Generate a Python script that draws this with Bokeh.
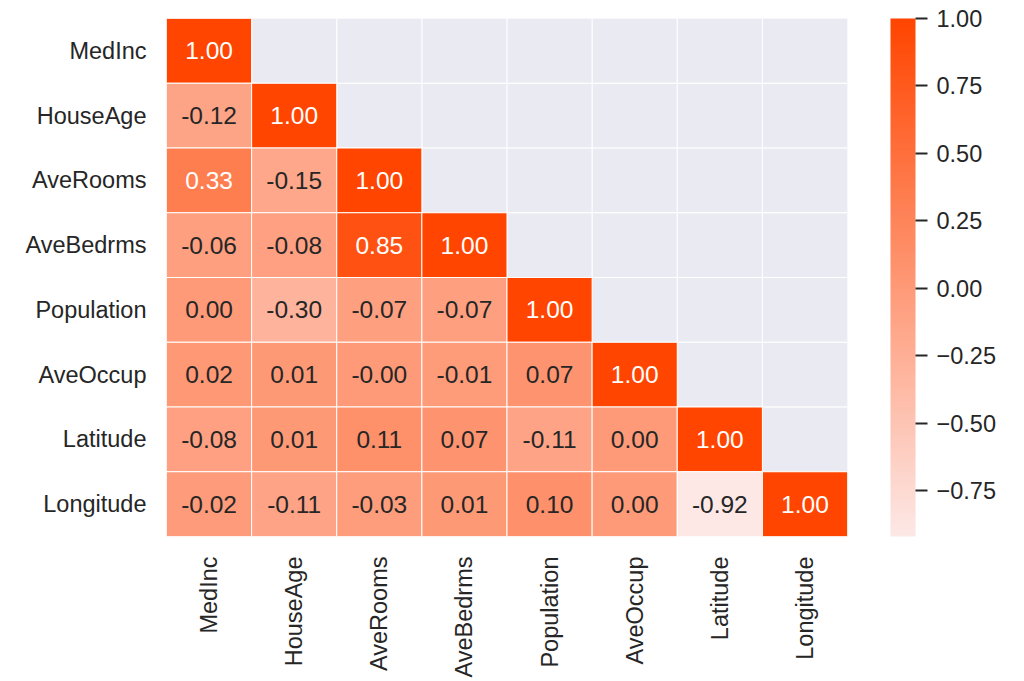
import math
import numpy as np
from bokeh.plotting import figure
from bokeh.models import (ColumnDataSource, LinearColorMapper, ColorBar, FixedTicker,
                          FactorRange, PrintfTickFormatter)
from bokeh.embed import file_html
from bokeh.resources import INLINE

features = ["MedInc", "HouseAge", "AveRooms", "AveBedrms",
            "Population", "AveOccup", "Latitude", "Longitude"]
corr_rows = [
    [1.00],
    [-0.12, 1.00],
    [0.33, -0.15, 1.00],
    [-0.06, -0.08, 0.85, 1.00],
    [0.00, -0.30, -0.07, -0.07, 1.00],
    [0.02, 0.01, -0.00, -0.01, 0.07, 1.00],
    [-0.08, 0.01, 0.11, 0.07, -0.11, 0.00, 1.00],
    [-0.02, -0.11, -0.03, 0.01, 0.10, 0.00, -0.92, 1.00],
]
cbar_ticks = [-0.75, -0.50, -0.25, 0.00, 0.25, 0.50, 0.75, 1.00]

FONT = "Liberation Sans"
TXT = "#262626"
FS = "23.5px"
FS_ANN = "24.5px"

# palette: light tint -> orangered
lo = np.array([253, 232, 230])
hi = np.array([255, 69, 0])
palette = []
for t in np.linspace(0, 1, 256):
    c = np.round(lo + (hi - lo) * t).astype(int)
    palette.append("#%02x%02x%02x" % tuple(c))

xs, ys, vals, labels, tcolors = [], [], [], [], []
for i, row in enumerate(corr_rows):
    for j, v in enumerate(row):
        xs.append(features[j])
        ys.append(features[i])
        vals.append(v)
        labels.append(f"{v:.2f}")
        tcolors.append("white" if v > 0.2 else TXT)

vmin = min(vals)
mapper = LinearColorMapper(palette=palette, low=vmin, high=1.0)

src = ColumnDataSource(dict(x=xs, y=ys, v=vals, label=labels, tc=tcolors))

gx = [a for b in features for a in features]
gy = [b for b in features for a in features]
grid_src = ColumnDataSource(dict(x=gx, y=gy))

p = figure(width=1024, height=681,
           x_range=FactorRange(factors=features),
           y_range=FactorRange(factors=features[::-1]),
           output_backend="svg", toolbar_location=None,
           min_border_left=166, min_border_top=18, min_border_bottom=145,
           min_border_right=177)
p.outline_line_color = None
p.background_fill_color = "#eaeaf2"
p.border_fill_color = "white"
p.xgrid.grid_line_color = None
p.ygrid.grid_line_color = None

p.rect(x="x", y="y", width=1, height=1, source=grid_src,
       fill_color=None, line_color="white", line_alpha=0.8, line_width=1)
p.rect(x="x", y="y", width=1, height=1, source=src,
       fill_color={"field": "v", "transform": mapper},
       line_color="white", line_width=1)
p.text(x="x", y="y", text="label", source=src, text_color="tc",
       text_align="center", text_baseline="middle",
       text_font_size=FS_ANN, text_font={"value": FONT})

for ax in (p.xaxis[0], p.yaxis[0]):
    ax.axis_line_color = None
    ax.major_tick_line_color = None
    ax.minor_tick_line_color = None
    ax.major_tick_out = 0
    ax.major_tick_in = 0
    ax.major_label_text_font = FONT
    ax.major_label_text_font_size = FS
    ax.major_label_text_color = TXT
    ax.major_label_standoff = 20
p.xaxis.major_label_orientation = math.pi / 2

overrides = {t: (f"{t:.2f}".replace("-", "\u2212")) for t in cbar_ticks}
cb = ColorBar(color_mapper=mapper, ticker=FixedTicker(ticks=cbar_ticks),
              formatter=PrintfTickFormatter(format="%.2f"),
              major_label_overrides=overrides,
              width=25, height=518, padding=0, margin=0,
              location=(43, 0),
              major_label_text_font=FONT, major_label_text_font_size=FS,
              major_label_text_color=TXT,
              major_tick_out=12, major_tick_in=0,
              major_tick_line_color=TXT, major_tick_line_width=2,
              minor_tick_line_color=None, label_standoff=9,
              bar_line_color=None, border_line_color=None,
              background_fill_color=None)
p.add_layout(cb, "right")

open("out.html", "w").write(file_html(p, INLINE))
